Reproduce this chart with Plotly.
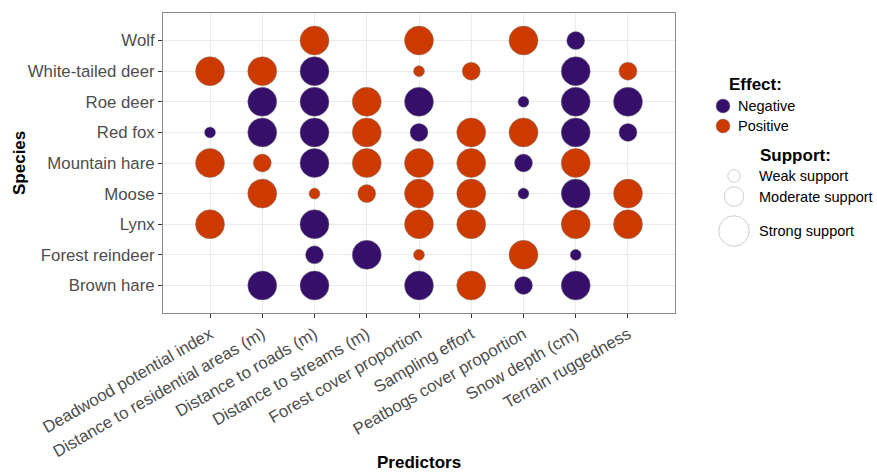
import plotly.graph_objects as go

# Axis categories (top-to-bottom species, left-to-right predictors)
species = ["Wolf", "White-tailed deer", "Roe deer", "Red fox", "Mountain hare",
           "Moose", "Lynx", "Forest reindeer", "Brown hare"]
predictors = ["Deadwood potential index", "Distance to residential areas (m)",
              "Distance to roads (m)", "Distance to streams (m)",
              "Forest cover proportion", "Sampling effort",
              "Peatbogs cover proportion", "Snow depth (cm)", "Terrain ruggedness"]
pred_keys = ["DW", "RES", "ROAD", "STR", "FOR", "SAMP", "PEAT", "SNOW", "TER"]

# One entry per estimated effect: species, predictor key, direction, support
eff_species = (["Wolf"] * 4 + ["White-tailed deer"] * 7 + ["Roe deer"] * 7 +
               ["Red fox"] * 9 + ["Mountain hare"] * 8 + ["Moose"] * 8 +
               ["Lynx"] * 6 + ["Forest reindeer"] * 5 + ["Brown hare"] * 6)
eff_predictor = [
    "ROAD", "FOR", "PEAT", "SNOW",
    "DW", "RES", "ROAD", "FOR", "SAMP", "SNOW", "TER",
    "RES", "ROAD", "STR", "FOR", "PEAT", "SNOW", "TER",
    "DW", "RES", "ROAD", "STR", "FOR", "SAMP", "PEAT", "SNOW", "TER",
    "DW", "RES", "ROAD", "STR", "FOR", "SAMP", "PEAT", "SNOW",
    "RES", "ROAD", "STR", "FOR", "SAMP", "PEAT", "SNOW", "TER",
    "DW", "ROAD", "FOR", "SAMP", "SNOW", "TER",
    "ROAD", "STR", "FOR", "PEAT", "SNOW",
    "RES", "ROAD", "FOR", "SAMP", "PEAT", "SNOW",
]
eff_direction = [
    "Positive", "Positive", "Positive", "Negative",
    "Positive", "Positive", "Negative", "Positive", "Positive", "Negative", "Positive",
    "Negative", "Negative", "Positive", "Negative", "Negative", "Negative", "Negative",
    "Negative", "Negative", "Negative", "Positive", "Negative", "Positive", "Positive", "Negative", "Negative",
    "Positive", "Positive", "Negative", "Positive", "Positive", "Positive", "Negative", "Positive",
    "Positive", "Positive", "Positive", "Positive", "Positive", "Negative", "Negative", "Positive",
    "Positive", "Negative", "Positive", "Positive", "Positive", "Positive",
    "Negative", "Negative", "Positive", "Positive", "Negative",
    "Negative", "Negative", "Negative", "Positive", "Negative", "Negative",
]
eff_support = [
    "Strong", "Strong", "Strong", "Moderate",
    "Strong", "Strong", "Strong", "Weak", "Moderate", "Strong", "Moderate",
    "Strong", "Strong", "Strong", "Strong", "Weak", "Strong", "Strong",
    "Weak", "Strong", "Strong", "Strong", "Moderate", "Strong", "Strong", "Strong", "Moderate",
    "Strong", "Moderate", "Strong", "Strong", "Strong", "Strong", "Moderate", "Strong",
    "Strong", "Weak", "Moderate", "Strong", "Strong", "Weak", "Strong", "Strong",
    "Strong", "Strong", "Strong", "Strong", "Strong", "Strong",
    "Moderate", "Strong", "Weak", "Strong", "Weak",
    "Strong", "Strong", "Strong", "Strong", "Moderate", "Strong",
]

effect_levels = ["Negative", "Positive"]
support_levels = ["Weak", "Moderate", "Strong"]
support_labels = ["Weak support", "Moderate support", "Strong support"]

effect_colors = {"Negative": "#350F6A", "Positive": "#CC3A00"}
support_sizes = {"Weak": 11, "Moderate": 18, "Strong": 29}

W, H = 877, 472
panel = dict(left=163, right=675, top=13, bottom=313)

key_to_label = dict(zip(pred_keys, predictors))

fig = go.Figure()

for eff in effect_levels:
    idx = [i for i, d in enumerate(eff_direction) if d == eff]
    fig.add_trace(go.Scatter(
        x=[key_to_label[eff_predictor[i]] for i in idx],
        y=[eff_species[i] for i in idx],
        xaxis="x", yaxis="y",
        mode="markers",
        name=eff,
        marker=dict(
            color=effect_colors[eff],
            size=[support_sizes[eff_support[i]] for i in idx],
            line=dict(color="rgba(130,130,130,0.8)", width=0.6),
            opacity=1,
        ),
        showlegend=False,
        hoverinfo="x+y+name",
    ))

# ---- legend keys, drawn on a full-figure helper axis in pixel units ----
legend_font = dict(family="Liberation Sans, Arial, sans-serif", size=14.5, color="black")
title_font = dict(family="Liberation Sans, Arial, sans-serif", size=17, color="black")

effect_key_y = [106, 126]
fig.add_trace(go.Scatter(
    x=[723, 723], y=effect_key_y, xaxis="x2", yaxis="y2", mode="markers",
    marker=dict(color=[effect_colors[e] for e in effect_levels], size=14,
                line=dict(color="rgba(130,130,130,0.8)", width=0.6)),
    showlegend=False, hoverinfo="skip", cliponaxis=False,
))
support_key_y = [176, 196.5, 231]
fig.add_trace(go.Scatter(
    x=[734] * 3, y=support_key_y, xaxis="x2", yaxis="y2", mode="markers",
    marker=dict(color="rgba(255,255,255,0)",
                size=[support_sizes[s] + 1.5 for s in support_levels],
                line=dict(color="#aaaaaa", width=0.8)),
    showlegend=False, hoverinfo="skip", cliponaxis=False,
))

ann = []


def px_x(v):
    return v / W


def px_y(v):
    return 1 - v / H


ann.append(dict(text="<b>Effect:</b>", x=px_x(727), y=px_y(85), xanchor="left",
                yanchor="middle", font=title_font))
for lab, yy in zip(effect_levels, effect_key_y):
    ann.append(dict(text=lab, x=px_x(736), y=px_y(yy), xanchor="left",
                    yanchor="middle", font=legend_font))
ann.append(dict(text="<b>Support:</b>", x=px_x(758), y=px_y(155), xanchor="left",
                yanchor="middle", font=title_font))
for lab, yy in zip(support_labels, support_key_y):
    ann.append(dict(text=lab, x=px_x(757), y=px_y(yy), xanchor="left",
                    yanchor="middle", font=legend_font))

# axis titles
ann.append(dict(text="<b>Species</b>", x=px_x(19), y=px_y((panel["top"] + panel["bottom"]) / 2),
                textangle=-90, xanchor="center", yanchor="middle", font=title_font))
ann.append(dict(text="<b>Predictors</b>", x=px_x((panel["left"] + panel["right"]) / 2),
                y=px_y(462), xanchor="center", yanchor="middle", font=title_font))

for a in ann:
    a.update(xref="paper", yref="paper", showarrow=False)

tick_font = dict(family="Liberation Sans, Arial, sans-serif", size=16.8, color="#4d4d4d")

fig.update_layout(
    template="none",
    width=W, height=H,
    margin=dict(l=0, r=0, t=0, b=0, pad=0, autoexpand=False),
    paper_bgcolor="white", plot_bgcolor="rgba(0,0,0,0)",
    showlegend=False,
    annotations=ann,
    xaxis=dict(
        domain=[panel["left"] / W, panel["right"] / W],
        anchor="y", automargin=False,
        type="category", categoryorder="array", categoryarray=predictors,
        range=[-0.9, len(predictors) - 1 + 0.9],
        showgrid=True, gridcolor="#ebebeb", gridwidth=1,
        ticks="outside", ticklen=4, tickcolor="#333333", tickwidth=1,
        tickangle=-30, tickfont=tick_font,
        showline=True, mirror=True, linecolor="#8a8a8a", linewidth=1,
        zeroline=False, fixedrange=True,
    ),
    yaxis=dict(
        domain=[1 - panel["bottom"] / H, 1 - panel["top"] / H],
        anchor="x", automargin=False,
        type="category", categoryorder="array", categoryarray=species[::-1],
        range=[-0.9, len(species) - 1 + 0.9],
        showgrid=True, gridcolor="#ebebeb", gridwidth=1,
        ticks="outside", ticklen=4, tickcolor="#333333", tickwidth=1,
        tickfont=tick_font,
        showline=True, mirror=True, linecolor="#8a8a8a", linewidth=1,
        zeroline=False, fixedrange=True,
    ),
    xaxis2=dict(domain=[0, 1], range=[0, W], anchor="y2",
                visible=False, automargin=False, fixedrange=True),
    yaxis2=dict(domain=[0, 1], range=[H, 0], anchor="x2",
                visible=False, automargin=False, fixedrange=True),
)

fig.write_html("out.html")
